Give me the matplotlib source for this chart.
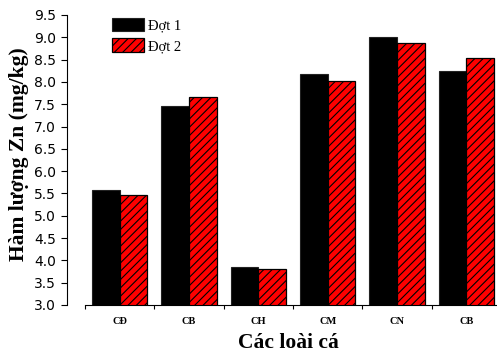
import matplotlib
matplotlib.use("Agg")
import matplotlib.pyplot as plt
import numpy as np

categories = ["CĐ", "CB", "CH", "CM", "CN", "CB"]
dot1 = [5.58, 7.45, 3.86, 8.18, 9.00, 8.24]
dot2 = [5.47, 7.66, 3.80, 8.02, 8.88, 8.53]
series_names = ["Đợt 1", "Đợt 2"]
yticks = [3.0, 3.5, 4.0, 4.5, 5.0, 5.5, 6.0, 6.5, 7.0, 7.5, 8.0, 8.5, 9.0, 9.5]

plt.rcParams['hatch.linewidth'] = 0.8
fig = plt.figure(figsize=(4.97, 3.57), dpi=100)
ax = fig.add_axes([85/497, 52/357, 416/497, 290/357])

x = np.arange(1, len(categories) + 1)
w = 0.4
ax.bar(x - w/2, dot1, width=w, color="black", edgecolor="#222222", linewidth=0.8,
       label=series_names[0], zorder=2)
ax.bar(x + w/2, dot2, width=w, color="#ff0000", edgecolor="black", linewidth=0.9,
       hatch="////", label=series_names[1], zorder=2)

ax.set_xlim(0.5, 6.5)
ax.set_ylim(3.0, 9.5)
ax.set_yticks(yticks)
ax.set_yticklabels([f"{v:.1f}" for v in yticks], fontfamily="Liberation Sans", fontsize=10.5)
ax.set_xticks(x)
ax.set_xticklabels(categories, fontfamily="Liberation Serif", fontweight="bold", fontsize=7.5)
ax.tick_params(axis="x", which="major", length=0, pad=9)
ax.set_xticks(np.arange(0.5, 7.0, 1.0), minor=True)
ax.tick_params(axis="x", which="minor", length=3, width=0.8, direction="out")
ax.tick_params(axis="y", length=4, width=0.8, direction="out", pad=4)

for s in ["top", "right"]:
    ax.spines[s].set_visible(False)
ax.spines["left"].set_position(("outward", 13))
ax.spines["left"].set_linewidth(0.8)
ax.spines["bottom"].set_linewidth(0.8)

ax.set_ylabel("Hàm lượng Zn (mg/kg)", fontfamily="Liberation Serif", fontweight="bold", fontsize=15.5)
ax.yaxis.set_label_coords(-0.135, 0.52)
ax.set_xlabel("Các loài cá", fontfamily="Liberation Serif", fontweight="bold", fontsize=15.5)
ax.xaxis.set_label_coords(0.49, -0.097)

leg = ax.legend(loc="upper left", bbox_to_anchor=(0.065, 0.99), frameon=False,
                prop={"family": "Liberation Serif", "size": 10.5},
                handlelength=2.2, handleheight=1.05, labelspacing=0.4,
                handletextpad=0.3, borderpad=0, borderaxespad=0)

fig.savefig("out.png", dpi=100)
